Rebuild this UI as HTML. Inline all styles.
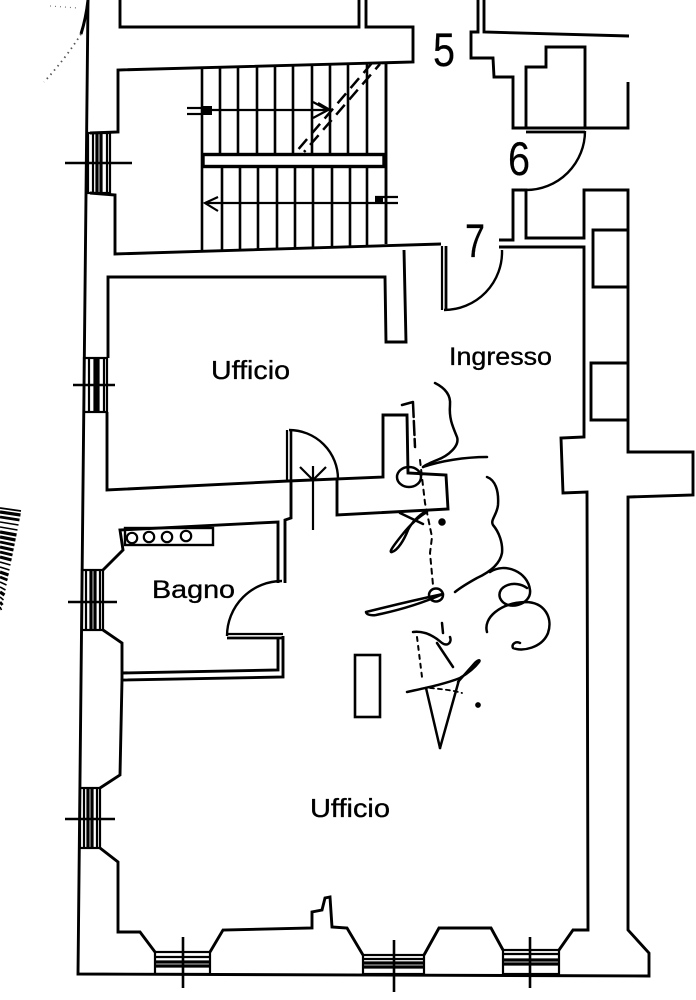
<!DOCTYPE html>
<html><head><meta charset="utf-8">
<style>html,body{margin:0;padding:0;background:#fff}svg{display:block}</style>
</head>
<body>
<svg width="696" height="1000" viewBox="0 0 696 1000" xmlns="http://www.w3.org/2000/svg">
<rect width="696" height="1000" fill="#fff"/>

<!-- scan artifacts top-left -->
<path d="M88,0 Q86,18 81,34" fill="none" stroke="#000" stroke-width="3"/>
<path d="M81,34 Q66,58 44,82" fill="none" stroke="#555" stroke-width="1.8" stroke-dasharray="1.5 4"/>
<path d="M50,6 L78,8" fill="none" stroke="#777" stroke-width="1.2" stroke-dasharray="1 4"/>

<!-- barcode -->
<g stroke="#000" fill="none">
<line x1="0" y1="508" x2="21" y2="511" stroke-width="1.8"/>
<line x1="0" y1="512" x2="20.5" y2="515" stroke-width="3.2"/>
<line x1="0" y1="517" x2="19.5" y2="520" stroke-width="2.8"/>
<line x1="0" y1="522" x2="18.5" y2="525" stroke-width="1.6"/>
<line x1="0" y1="527" x2="17.5" y2="530" stroke-width="1.6"/>
<line x1="0" y1="532" x2="16.5" y2="535" stroke-width="3.2"/>
<line x1="0" y1="537" x2="15.5" y2="540" stroke-width="3.2"/>
<line x1="0" y1="542" x2="14.5" y2="545" stroke-width="2.8"/>
<line x1="0" y1="547" x2="13.5" y2="550" stroke-width="3.2"/>
<line x1="0" y1="552" x2="12.5" y2="555" stroke-width="2.8"/>
<line x1="0" y1="557" x2="11.5" y2="560" stroke-width="3.2"/>
<line x1="0" y1="562" x2="10.5" y2="565" stroke-width="1.6"/>
<line x1="0" y1="567" x2="9.5" y2="570" stroke-width="1.6"/>
<line x1="0" y1="572" x2="8.5" y2="575" stroke-width="3.2"/>
<line x1="0" y1="577" x2="7.5" y2="580" stroke-width="2.8"/>
<line x1="0" y1="582" x2="6.5" y2="585" stroke-width="1.6"/>
<line x1="0" y1="587" x2="5.5" y2="590" stroke-width="1.6"/>
<line x1="0" y1="592" x2="4.5" y2="595" stroke-width="3.2"/>
<line x1="0" y1="597" x2="3.5" y2="600" stroke-width="1.6"/>
<line x1="0" y1="602" x2="2.5" y2="605" stroke-width="2.8"/>
<line x1="0" y1="607" x2="1.5" y2="610" stroke-width="1.6"/>
</g>

<g fill="none" stroke="#000" stroke-width="2.9" stroke-linejoin="miter">
<path d="M88,0 L78,974 L649,976 L649,953 L628,930 L628,497 L693,495 L693,452 L628,452 L628,190 L584,190 L584,238 L526,238 L526,190 L513,190 L513,240 L499,240"/>
<path d="M628,230 L593,230 L593,287 L628,287"/>
<path d="M628,363 L591,363 L591,420 L628,420"/>

<path d="M499,247 L584,247 L584,437 L561,438 L563,493 L587,492 L588,930 L573,930 L559,950"/>
<path d="M503,950 L491,928 L439,928 L424,955"/>
<path d="M363,955 L347,928 L332,927 L330,897 L325,898 L322,910 L312,912 L312,928 L223,930 L210,952"/>
<path d="M155,952 L140,932 L118,932 L118,862 L100,848"/>
<path d="M100,788 L120,775 L122,680 L283,677 L283,636"/>

<path d="M278,638 L278,670 L122,673"/>
<path d="M122,680 L122,643 L103,630"/>
<path d="M103,570 L123,550 L120,530 L278,522 L278,583"/>
<path d="M285,583 L285,520 L291,518 L291,480"/>
<rect x="125" y="528" width="88" height="17" stroke-width="2.4"/>
<circle cx="132" cy="538" r="5.2" stroke-width="2.2"/>
<circle cx="149" cy="537" r="5.2" stroke-width="2.2"/>
<circle cx="167" cy="537" r="5.2" stroke-width="2.2"/>
<circle cx="186" cy="536" r="5.2" stroke-width="2.2"/>

<path d="M108,358 L108,277 L385,277 L386,342 L406,342 L404,250"/>
<path d="M107,412 L107,490 L288,481 L383,477 L383,415 L407,415 L408,473 L446,475 L448,509 L337,515 L337,478"/>

<path d="M120,0 L120,27 L359,27 L359,0"/>
<path d="M366,0 L366,27 L413,27 L413,62 L118,70 L118,132 L90,133"/>
<path d="M90,193 L115,195 L115,254 L441,244"/>
<path d="M386,62 L386,244"/>

<path d="M478,0 L478,32 L471,32 L471,58 L493,58 L494,77 L513,77 L513,128 L628,128 L628,82"/>
<path d="M484,0 L484,32 L629,36"/>
<path d="M526,128 L526,67 L546,67 L546,47 L585,47 L585,128"/>
</g>

<!-- stairs -->
<g stroke="#000" stroke-width="2.6" fill="none">
<line x1="202" y1="68" x2="202" y2="252"/>
<line x1="220" y1="67" x2="220" y2="154"/>
<line x1="238" y1="67" x2="238" y2="154"/>
<line x1="257" y1="66" x2="257" y2="154"/>
<line x1="275" y1="66" x2="275" y2="154"/>
<line x1="293" y1="65" x2="293" y2="154"/>
<line x1="312" y1="65" x2="312" y2="154"/>
<line x1="330" y1="64" x2="330" y2="154"/>
<line x1="348" y1="64" x2="348" y2="154"/>
<line x1="367" y1="63" x2="367" y2="154"/>
<line x1="222" y1="167" x2="222" y2="251"/>
<line x1="240" y1="167" x2="240" y2="251"/>
<line x1="258" y1="167" x2="258" y2="250"/>
<line x1="277" y1="167" x2="277" y2="250"/>
<line x1="295" y1="167" x2="295" y2="249"/>
<line x1="313" y1="167" x2="313" y2="248"/>
<line x1="332" y1="167" x2="332" y2="248"/>
<line x1="350" y1="167" x2="350" y2="247"/>
<line x1="367" y1="167" x2="367" y2="246"/>
<rect x="203" y="154.5" width="181" height="12" stroke-width="3.4"/>
<line x1="203" y1="110" x2="328" y2="110" stroke-width="2.2"/>
<line x1="187" y1="108" x2="203" y2="108" stroke-width="2.2"/>
<line x1="187" y1="114" x2="203" y2="114" stroke-width="2.2"/>
<path d="M313,102 L328,110 L313,118" stroke-width="2.2"/>
<path d="M318,103 L330,110" stroke-width="2.2"/>
<line x1="205" y1="203" x2="398" y2="203" stroke-width="2.2"/>
<line x1="375" y1="197" x2="398" y2="197" stroke-width="2.2"/>
<path d="M218,197 L205,203 L218,211" stroke-width="2.2"/>
<line x1="372" y1="63" x2="296" y2="152" stroke-width="2.5" stroke-dasharray="13 7"/>
<line x1="380" y1="64" x2="304" y2="152" stroke-width="2.5" stroke-dasharray="13 7" stroke-dashoffset="6"/>
</g>
<rect x="203" y="106" width="9" height="9" fill="#000"/>
<rect x="375" y="197" width="8" height="6" fill="#000"/>

<!-- doors -->
<g fill="none" stroke="#000" stroke-width="2.4">
<line x1="526" y1="128" x2="585" y2="128" stroke-width="2.2"/>
<line x1="526" y1="132" x2="585" y2="132" stroke-width="2.8"/>
<path d="M585,131 A59,59 0 0 1 526,190"/>
<line x1="442" y1="246" x2="442" y2="310" stroke-width="2.2"/>
<line x1="446" y1="246" x2="446" y2="310" stroke-width="2.8"/>
<path d="M444,310 A58,58 0 0 0 502,250"/>
<line x1="287" y1="430" x2="287" y2="481" stroke-width="2.2"/>
<line x1="291" y1="430" x2="291" y2="481" stroke-width="2.6"/>
<path d="M289,430 A49,49 0 0 1 338,479"/>
<line x1="313" y1="466" x2="313" y2="530" stroke-width="2.2"/>
<line x1="300" y1="467" x2="313" y2="480" stroke-width="2.2"/>
<line x1="326" y1="467" x2="313" y2="480" stroke-width="2.2"/>
<line x1="227" y1="634" x2="283" y2="634" stroke-width="2.2"/>
<line x1="227" y1="638" x2="283" y2="638" stroke-width="2.8"/>
<path d="M227,636 A55,55 0 0 1 282,581"/>
</g>

<!-- windows -->
<g fill="none" stroke="#000" stroke-width="2.2">
<rect x="88" y="133" width="22" height="60"/>
<line x1="93" y1="133" x2="93" y2="193"/>
<line x1="97" y1="133" x2="97" y2="193" stroke-width="3.2"/>
<line x1="101" y1="133" x2="101" y2="193" stroke-width="3.2"/>
<line x1="107" y1="133" x2="107" y2="193"/>
<line x1="65" y1="163" x2="132" y2="163" stroke-width="2.6"/>

<rect x="84" y="358" width="23" height="54"/>
<line x1="89" y1="358" x2="89" y2="412"/>
<line x1="95" y1="358" x2="95" y2="412" stroke-width="3.2"/>
<line x1="98" y1="358" x2="98" y2="412" stroke-width="3.2"/>
<line x1="104" y1="358" x2="104" y2="412"/>
<line x1="73" y1="385" x2="115" y2="385" stroke-width="2.6"/>

<rect x="82" y="570" width="21" height="60"/>
<line x1="86" y1="570" x2="86" y2="630"/>
<line x1="91" y1="570" x2="91" y2="630" stroke-width="3.2"/>
<line x1="95" y1="570" x2="95" y2="630" stroke-width="3.2"/>
<line x1="100" y1="570" x2="100" y2="630"/>
<line x1="68" y1="602" x2="117" y2="602" stroke-width="2.6"/>

<rect x="80" y="788" width="20" height="60"/>
<line x1="84" y1="788" x2="84" y2="848"/>
<line x1="88" y1="788" x2="88" y2="848" stroke-width="3.2"/>
<line x1="92" y1="788" x2="92" y2="848" stroke-width="3.2"/>
<line x1="97" y1="788" x2="97" y2="848"/>
<line x1="65" y1="819" x2="115" y2="819" stroke-width="2.6"/>

<rect x="155" y="952" width="55" height="22"/>
<line x1="155" y1="957" x2="210" y2="957"/>
<line x1="155" y1="962" x2="210" y2="962" stroke-width="3.2"/>
<line x1="155" y1="966" x2="210" y2="966" stroke-width="3.2"/>
<line x1="183" y1="937" x2="183" y2="988" stroke-width="2.6"/>

<rect x="363" y="955" width="61" height="19"/>
<line x1="363" y1="959" x2="424" y2="959"/>
<line x1="363" y1="963" x2="424" y2="963" stroke-width="3.2"/>
<line x1="363" y1="967" x2="424" y2="967" stroke-width="3.2"/>
<line x1="394" y1="940" x2="394" y2="992" stroke-width="2.6"/>

<rect x="503" y="950" width="56" height="24"/>
<line x1="503" y1="954" x2="559" y2="954"/>
<line x1="503" y1="960" x2="559" y2="960" stroke-width="3.2"/>
<line x1="503" y1="964" x2="559" y2="964" stroke-width="3.2"/>
<line x1="530" y1="937" x2="530" y2="988" stroke-width="2.6"/>
</g>

<rect x="355" y="655" width="25" height="62" fill="none" stroke="#000" stroke-width="2.6"/>

<!-- signature scribble -->
<g fill="none" stroke="#000" stroke-width="2.5" stroke-linecap="round" stroke-linejoin="round">
<path d="M435,383 C445,388 451,395 450,405 C449,418 452,425 457,437 C460,446 448,456 437,460 C430,463 425,465 423,467"/>
<path d="M423,467 C440,461 465,457 487,457"/>
<path d="M402,405 L413,402"/>
<path d="M413,403 L415,447" stroke-dasharray="14 4"/>
<ellipse cx="409" cy="477" rx="12" ry="10"/>
<path d="M420,460 L425,503 L432,537 L430,553 L433,585" stroke-width="2" stroke-dasharray="5 5"/>
<path d="M427,512 C418,517 410,525 402,535 C394,545 388,553 392,552 C398,550 404,540 408,530 C412,522 418,516 426,511"/>
<path d="M400,513 L423,524"/>
<circle cx="442" cy="522" r="2.5" fill="#000"/>
<path d="M487,477 C495,480 499,490 498,505 C497,515 490,520 493,525 C499,532 503,543 502,553 C500,564 490,572 477,578 C468,583 460,588 455,592"/>
<ellipse cx="436" cy="595" rx="7" ry="6.5"/>
<path d="M366,612 C390,606 415,600 443,594 C425,602 400,610 376,615 C370,616 366,614 366,612"/>
<path d="M490,572 C505,562 528,572 530,590 C532,605 506,612 500,598 C496,586 515,579 527,588"/>
<path d="M487,632 C483,618 500,603 525,602 C545,602 553,618 548,633 C542,648 522,652 513,648 C511,644 516,641 520,643"/>
<path d="M413,632 C422,631 432,634 442,643 C448,647 452,642 450,637"/>
<path d="M442,623 L443,633"/>
<path d="M437,643 L453,667"/>
<path d="M417,637 L422,677" stroke-width="2" stroke-dasharray="4 5"/>
<path d="M407,692 C425,688 445,684 460,678 C470,672 476,666 479,662 C481,659 477,660 474,664 C468,671 463,676 458,682"/>
<path d="M426,688 L440,748"/>
<path d="M459,680 L440,748"/>
<path d="M430,688 C440,689 452,690 462,693" stroke-width="1.8" stroke-dasharray="4 4"/>
<circle cx="478" cy="705" r="1.6" fill="#000"/>
</g>

<!-- labels -->
<g font-family="'Liberation Sans', 'DejaVu Sans', sans-serif" fill="#000" stroke="#000">
<text x="433" y="66" font-size="47" stroke-width="0.2" textLength="22" lengthAdjust="spacingAndGlyphs">5</text>
<text x="508" y="175" font-size="47" stroke-width="0.2" textLength="22" lengthAdjust="spacingAndGlyphs">6</text>
<text x="465" y="257" font-size="47" stroke-width="0.2" textLength="20" lengthAdjust="spacingAndGlyphs">7</text>
<text x="211" y="379" font-size="26" stroke-width="0.35" textLength="79" lengthAdjust="spacingAndGlyphs">Ufficio</text>
<text x="449" y="365" font-size="25" stroke-width="0.35" textLength="103" lengthAdjust="spacingAndGlyphs">Ingresso</text>
<text x="152" y="598" font-size="25" stroke-width="0.35" textLength="83" lengthAdjust="spacingAndGlyphs">Bagno</text>
<text x="310" y="817" font-size="26" stroke-width="0.35" textLength="80" lengthAdjust="spacingAndGlyphs">Ufficio</text>
</g>
</svg>
</body>
</html>
